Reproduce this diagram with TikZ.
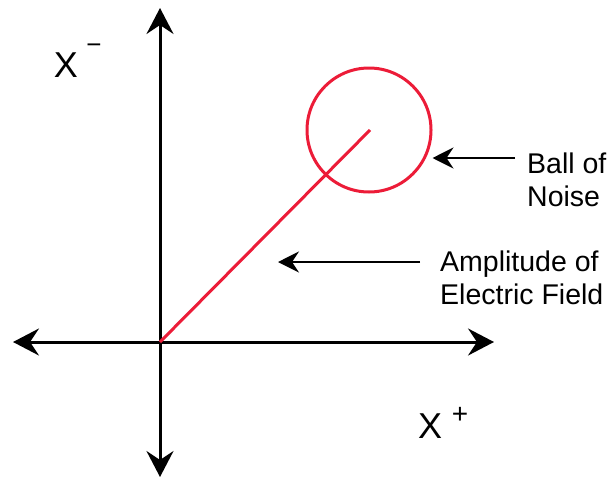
\documentclass[tikz,border=0pt]{standalone}
\usepackage{fontspec}
\setmainfont{Liberation Sans}
\usetikzlibrary{arrows.meta}
\definecolor{noisered}{RGB}{236,28,56}

\begin{document}
\begin{tikzpicture}[x=1pt, y=-1pt]
    \tikzstyle{axis} = [line width=3pt, {Stealth[length=26pt, width=27pt, inset=9pt]}-{Stealth[length=26pt, width=27pt, inset=9pt]}]
    \tikzstyle{pointer} = [line width=2.4pt, -{Stealth[length=21pt, width=21pt, inset=7pt]}]
    \tikzstyle{note} = [anchor=west, align=left, inner sep=0pt, font=\fontsize{28.5}{33}\selectfont]
    \tikzstyle{axlabel} = [inner sep=0pt, font=\fontsize{36}{36}\selectfont]
    \tikzstyle{redline} = [draw=noisered, line width=3pt]

    \useasboundingbox (0,0) rectangle (609,490);

    % Axes
    \coordinate (origin) at (160,342);
    \coordinate (top) at (160,8);
    \coordinate (bottom) at (160,477);
    \coordinate (left) at (13,342);
    \coordinate (right) at (494,342);
    \draw [axis] (bottom) -- (top);
    \draw [axis] (left) -- (right);

    % Field and noise
    \coordinate (tip) at (370,130);
    \draw [redline] (origin) -- (tip);
    \node (ball) [redline, circle, minimum size=124pt, inner sep=0pt] at (369,130) {};

    % Labels
    \node (xminus) [axlabel] at (66,65) {X};
    \node (xminussign) [axlabel, font=\fontsize{26}{26}\selectfont] at (94,49) {−};
    \node (xplus) [axlabel] at (430,426) {X};
    \node (xplussign) [axlabel, font=\fontsize{28}{28}\selectfont] at (460,415) {+};

    \node (ballnote) [note] at (527,180) {Ball of\\Noise};
    \node (ampnote) [note] at (440,278) {Amplitude of\\Electric Field};

    % Arrows
    \coordinate (ballstart) at (515,158);
    \coordinate (ampstart) at (420,262);
    \draw [pointer] (ballstart) -- (ball.east |- ballstart);
    \draw [pointer] (ampstart) -- (278,262);
\end{tikzpicture}
\end{document}
